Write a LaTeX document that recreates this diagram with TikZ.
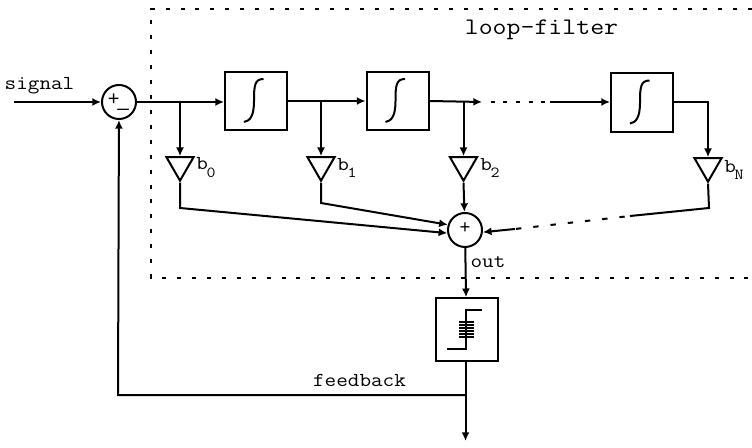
\documentclass[tikz,border=0pt]{standalone}
\usepackage{fontspec}
\setmainfont{Liberation Sans}
\setmonofont[FakeStretch=1.14]{Latin Modern Mono}
\usetikzlibrary{shapes.geometric,arrows.meta}
\newcommand{\coef}[2]{#1\kern-1pt\raisebox{-.4em}{\fontsize{11.5}{11.5}\selectfont #2}}
\tikzset{
  wire/.style={line width=1.5pt, line join=miter},
  arrow/.style={wire, -{Latex[length=6.5pt,width=6pt]}},
  sumnode/.style={circle, draw, line width=1.5pt, minimum size=25.5pt, inner sep=0pt, font=\fontsize{15}{15}\selectfont},
  block/.style={rectangle, draw, line width=1.5pt, minimum width=46.5pt, minimum height=44pt, inner sep=0pt},
  gain/.style={regular polygon, regular polygon sides=3, shape border rotate=180, draw, line width=1.5pt, minimum size=23.5pt, inner sep=0pt},
  label/.style={inner sep=0pt, font=\fontsize{14.8}{14.8}\selectfont\ttfamily},
  boundary/.style={line width=1.5pt, dash pattern=on 3pt off 8.2pt}}

\begin{document}
\begin{tikzpicture}[x=0.75pt,y=-0.75pt]
    \useasboundingbox (0,0) rectangle (752,448);
    \coordinate (bd1) at (752,9);
    \coordinate (bd2) at (151,9);
    \coordinate (bd3) at (151,278);
    \coordinate (bd4) at (752,278);
    \draw[boundary] (bd1) -- (bd2) -- (bd3) -- (bd4);
    \node[sumnode] (sum1) at (119,102) {\kern-1pt+\kern-1.5pt\raisebox{-1pt}{\_}};
    \node[sumnode, font=\fontsize{14}{14}\selectfont] (sum2) at (465,230) {\raisebox{3pt}{+}};
    \node[block] (int1) at (256,101) {};
    \node[block] (int2) at (397.5,101) {};
    \node[block] (int3) at (642,102.5) {};
    \node[block, minimum height=47pt] (quant) at (466.5,329.5) {};
    \node[gain] (b0) at (180,165) {};
    \node[gain] (b1) at (321,165) {};
    \node[gain] (b2) at (463.5,165) {};
    \node[gain] (bN) at (708,166) {};
    \node[label] (lsignal) at (39.5,86) {signal};
    \node[label, font=\fontsize{17.8}{17.8}\selectfont\ttfamily] (lloop) at (541.5,30) {loop-filter};
    \node[label] (lout) at (488,262) {out};
    \node[label] (lfeedback) at (359.5,380) {feedback};
    \node[label, anchor=west] (lb0) at (196,168) {\coef{b}{0}};
    \node[label, anchor=west] (lb1) at (337,168) {\coef{b}{1}};
    \node[label, anchor=west] (lb2) at (480,168) {\coef{b}{2}};
    \node[label, anchor=west] (lbN) at (724,170) {\coef{b}{N}};
    \foreach \n in {int1,int2,int3}
        \draw[wire] ([shift={(7.5,-22)}]\n.center) .. controls +(-9,0) and +(0,-15) .. ([shift={(-2,0)}]\n.center) .. controls +(0,15) and +(6,-1) .. ([shift={(-12,21)}]\n.center);
    \draw[wire] (447,349) -- (466,349) -- (466,310) -- (482,310);
    \foreach \t in {0,...,5}
        \draw[wire, line width=1.2pt] (459,322+\t*3) -- ++(15,0);
    \coordinate (in) at (14,102);
    \coordinate (jn0) at (180,101);
    \coordinate (jn1) at (321,101);
    \coordinate (jn2) at (463.5,101);
    \coordinate (b0c) at (180,208);
    \coordinate (b1c) at (321,203);
    \coordinate (bNc) at (709,208);
    \coordinate (bNd) at (630,216);
    \coordinate (bNe) at (515,229);
    \coordinate (gap1) at (482,102);
    \coordinate (gap2) at (550,102);
    \coordinate (cnr) at (708,102);
    \coordinate (fb) at (465.5,395);
    \coordinate (fbc) at (118,395);
    \coordinate (output) at (465.5,441);
    \draw[arrow] (in) -- (sum1);
    \draw[arrow] (sum1) -- (int1.west |- sum1);
    \draw[arrow] (int1) -- (int2);
    \draw[arrow] (int2.east) -- (gap1);
    \draw[wire, dash pattern=on 3pt off 6.5pt, dash phase=3pt] (gap1) -- (gap2);
    \draw[arrow] (gap2) -- (int3.west |- gap2);
    \draw[arrow] (jn0) -- (b0.north);
    \draw[arrow] (jn1) -- (b1.north);
    \draw[arrow] (jn2) -- (b2.north);
    \draw[arrow] (int3.east |- cnr) -- (cnr) -- (bN.north);
    \draw[arrow] (b2.south) -- (sum2);
    \draw[wire] (bN.south) -- (bNc) -- (bNd);
    \draw[wire, dash pattern=on 4pt off 9pt, dash phase=9pt] (bNd) -- (bNe);
    \draw[arrow] (bNe) -- (sum2.353);
    \draw[arrow] (b0.south) -- (b0c) -- (sum2.190);
    \draw[arrow] (b1.south) -- (b1c) -- (sum2.163);
    \draw[arrow] (sum2) -- (quant);
    \draw[wire] (quant.south -| fb) -- (fb);
    \draw[arrow] (fb) -- (output);
    \draw[arrow] (fb) -- (fbc) -- (sum1);
\end{tikzpicture}
\end{document}
